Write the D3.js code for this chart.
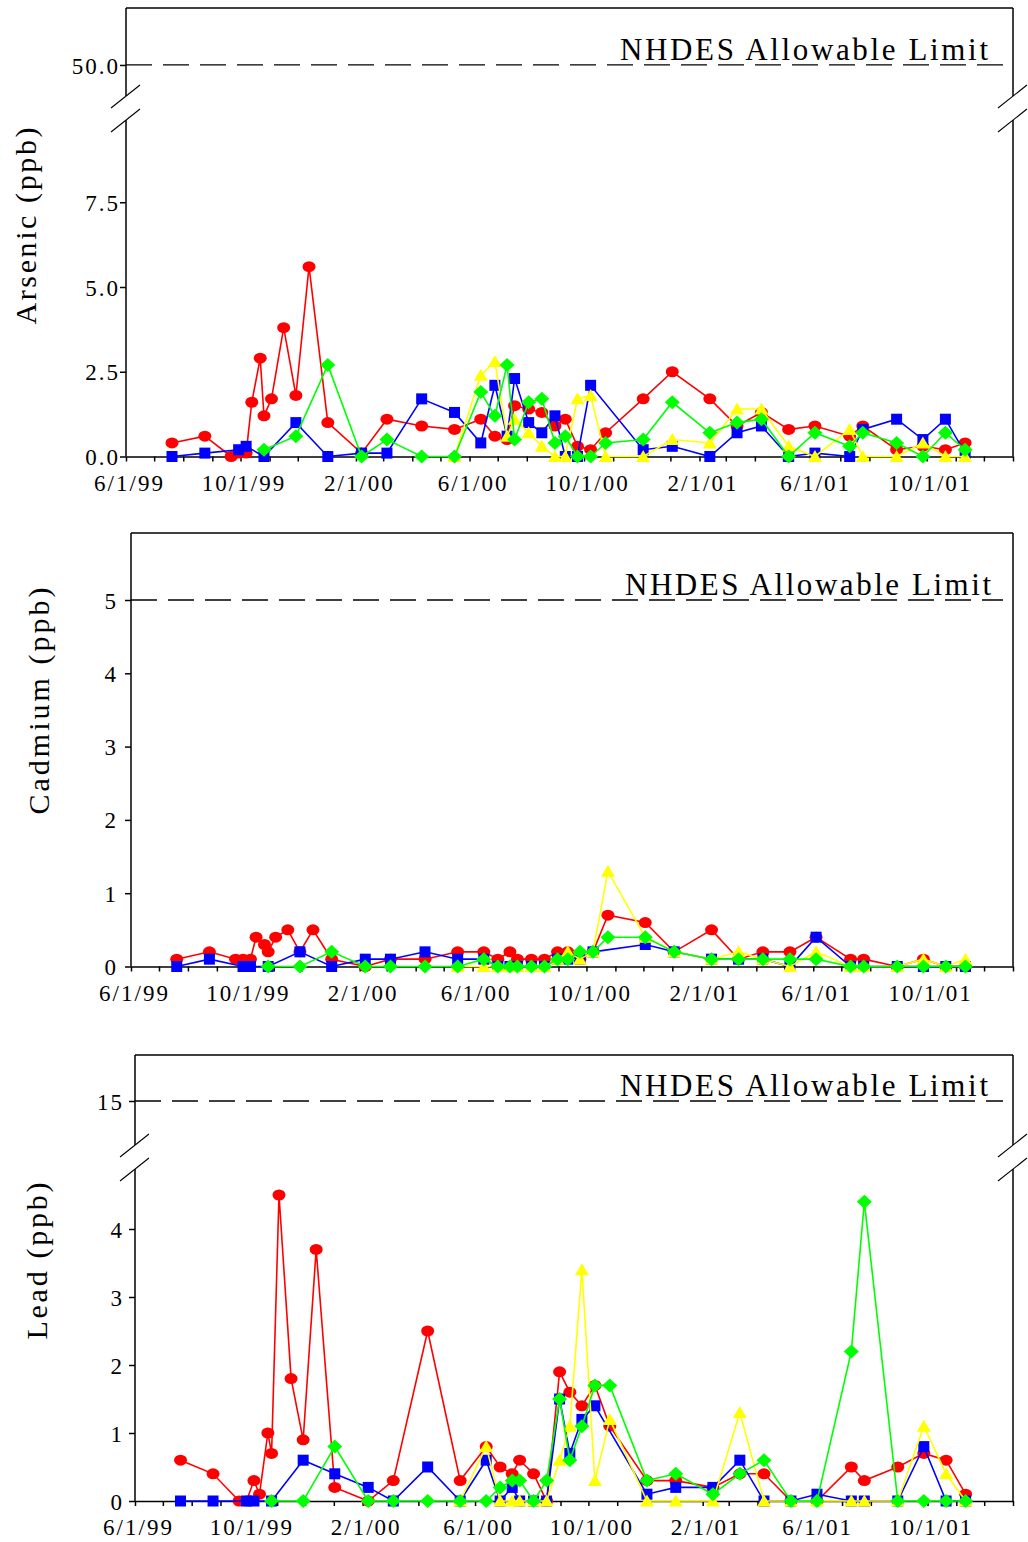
<!DOCTYPE html>
<meta charset="utf-8">
<style>
body { margin: 0; background: #fff; }
svg text { font-family: "Liberation Serif", "Times New Roman", serif; fill: #000; }
</style>
<script src="https://d3js.org/d3.v7.min.js"></script>
<body>
<svg id="chart" width="1028" height="1542"></svg>
<script>
var N = null;

// sampling dates shared by all three charts
var sampleDates = ["7/20/99","8/24/99","9/21/99","9/29/99","10/7/99","10/13/99","10/22/99","10/26/99","11/3/99","11/16/99",
  "11/29/99","12/13/99","1/2/00","2/7/00","3/5/00","4/11/00","5/16/00","6/13/00","6/28/00","7/11/00",
  "7/19/00","8/3/00","8/17/00","8/31/00","9/11/00","9/24/00","10/8/00","10/24/00","12/3/00","1/3/01",
  "2/12/01","3/13/01","4/8/01","5/7/01","6/4/01","7/11/01","7/25/01","8/30/01","9/27/01","10/21/01",
  "11/11/01"];

// values line up with sampleDates, null = no sample
var arsenicRed    = [0.4,0.6,0.0,0.1,0.1,1.6,2.9,1.2,1.7,3.8, 1.8,5.6,1.0,0.1,1.1,0.9,0.8,1.1,0.6,0.5, 1.5,1.4,1.3,0.9,1.1,0.3,0.2,0.7,1.7,2.5, 1.7,0.9,1.3,0.8,0.9,0.6,0.9,0.2,0.3,0.2, 0.4];
var arsenicBlue   = [0,0.1,N,0.2,0.3,N,N,0,N,N, 1.0,N,0,0.1,0.1,1.7,1.3,0.4,2.1,0.6, 2.3,1.0,0.7,1.2,0,0,2.1,N,0.2,0.3, 0,0.7,0.9,0,0.1,0,0.8,1.1,0.5,1.1, 0.1];
var arsenicYellow = [N,N,N,N,N,N,N,N,N,N, N,N,N,N,N,N,0,2.4,2.8,0.6, 1.1,0.7,0.3,0,0,1.7,1.8,0,0,0.5, 0.4,1.4,1.4,0.3,0,0.8,0,0,0.4,0, 0];
var arsenicGreen  = [N,N,N,N,N,N,N,0.2,N,N, 0.6,N,2.7,0,0.5,0,0,1.9,1.2,2.7, 0.5,1.6,1.7,0.4,0.6,0,0,0.4,0.5,1.6, 0.7,1.0,1.1,0,0.7,0.3,0.7,0.4,0,0.7, 0.2];

var cadmiumRed    = [0.1,0.2,0.1,0.1,0.1,0.4,0.3,0.2,0.4,0.5, 0.2,0.5,0.1,0,0.1,0.1,0.2,0.2,0.1,0.2, 0.1,0.1,0.1,0.2,0.2,0.1,0.2,0.7,0.6,0.2, 0.5,0.1,0.2,0.2,0.4,0.1,0.1,0,0.1,0, 0];
var cadmiumBlue   = [0,0.1,N,0,0,N,N,0,N,N, 0.2,N,0,0.1,0.1,0.2,0.1,0.1,0,0, 0,0,0,0.1,0.1,0.1,0.2,N,0.3,0.2, 0.1,0.1,0.1,0,0.4,0,0,0,0,0, 0];
var cadmiumYellow = [N,N,N,N,N,N,N,N,N,N, N,N,N,N,N,N,0,0,0,0, 0,0,0,0.1,0.2,0.1,0.2,1.3,0.4,0.2, 0.1,0.2,0.1,0,0.2,0,0,0,0.1,0, 0.1];
var cadmiumGreen  = [N,N,N,N,N,N,N,0,N,N, 0,N,0.2,0,0,0,0,0.1,0,0, 0,0,0,0.1,0.1,0.2,0.2,0.4,0.4,0.2, 0.1,0.1,0.1,0.1,0.1,0,0,0,0,0, 0];

var leadRed    = [0.6,0.4,0,0,0.3,0.1,1.0,0.7,4.5,1.8, 0.9,3.7,0.2,0,0.3,2.5,0.3,0.8,0.5,0.4, 0.6,0.4,0,1.9,1.6,1.4,1.7,1.1,0.3,0.3, 0.2,0.4,0.4,0,0,0.5,0.3,0.5,0.7,0.6, 0.1];
var leadBlue   = [0,0,N,0,0,N,N,0,N,N, 0.6,N,0.4,0.2,0,0.5,0,0.6,0,0.2, 0,0,0,1.5,0.7,1.2,1.4,N,0.1,0.2, 0.2,0.6,0,0,0.1,0,0,0,0.8,0, 0];
var leadYellow = [N,N,N,N,N,N,N,N,N,N, N,N,N,N,N,N,0,0.8,0,0, 0,0,0,0.6,1.1,3.4,0.3,1.2,0,0, 0,1.3,0,0,0,0,0,0,1.1,0.4, 0];
var leadGreen  = [N,N,N,N,N,N,N,0,N,N, 0,N,0.8,0,0,0,0,0,0.2,0.3, 0.3,0,0.3,1.5,0.6,1.1,1.7,1.7,0.3,0.4, 0.1,0.4,0.6,0,0,2.2,4.4,0,0,0, 0];

var arsenicTicks = [0, 2.5, 5, 7.5];
var cadmiumTicks = [0, 1, 2, 3, 4, 5];
var leadTicks = [0, 1, 2, 3, 4];
var limits = {arsenic: 50, cadmium: 5, lead: 15};
var limitLabel = "NHDES Allowable Limit";

var parseDate = d3.timeParse("%m/%d/%y");
var dates = sampleDates.map(parseDate);
var xStart = new Date(1999, 5, 1), xEnd = new Date(2002, 0, 1);
var fmtDate = d3.timeFormat("%-m/%-d/%y");

var svg = d3.select("#chart");

var seriesStyle = [
  {color: "#ff0000", shape: "M-6.5,0A6.5,5.5 0 1,0 6.5,0A6.5,5.5 0 1,0 -6.5,0Z"},
  {color: "#0000ff", shape: "M-5.5,-5.5H5.5V5.5H-5.5Z"},
  {color: "#ffff00", shape: "M0,-6.5L7,5.5L-7,5.5Z"},
  {color: "#00ff00", shape: "M0,-7L7.5,0L0,7L-7.5,0Z"}
];

var panels = [
  {title: "Arsenic (ppb)", series: [arsenicRed, arsenicBlue, arsenicYellow, arsenicGreen],
   ticks: arsenicTicks, fmt: d3.format(".1f"), limit: limits.arsenic,
   left: 126, right: 1013, top: 8, lowDomain: [0, 5], lowRange: [456.5, 287],
   brk: {upper: 96, lower: 120}, highDomain: [41, 66], highRange: [97, 8],
   labelGap: 6, titleX: 36, titleY: 226, titleLen: 197, limitTextX: 620, limitTextLen: 368},
  {title: "Cadmium (ppb)", series: [cadmiumRed, cadmiumBlue, cadmiumYellow, cadmiumGreen],
   ticks: cadmiumTicks, fmt: d3.format("d"), limit: limits.cadmium,
   left: 131, right: 1013, top: 533, lowDomain: [0, 5], lowRange: [966.5, 600],
   brk: null, labelGap: 13, titleX: 49, titleY: 701, titleLen: 227, limitTextX: 625, limitTextLen: 366},
  {title: "Lead (ppb)", series: [leadRed, leadBlue, leadYellow, leadGreen],
   ticks: leadTicks, fmt: d3.format("d"), limit: limits.lead,
   left: 135, right: 1013, top: 1055, lowDomain: [0, 4], lowRange: [1501, 1229],
   brk: {upper: 1145, lower: 1169}, highDomain: [12.8, 17.3], highRange: [1145, 1055],
   labelGap: 11, titleX: 47, titleY: 1261, titleLen: 157, limitTextX: 620, limitTextLen: 368}
];

function breakMark(g, ax, yb) {
  g.append("line").attr("x1", ax - 15).attr("y1", yb + 12).attr("x2", ax + 14).attr("y2", yb - 11)
    .attr("stroke", "#000").attr("stroke-width", 1.1);
}

panels.forEach(function(p) {
  var g = svg.append("g");
  var x = d3.scaleTime().domain([xStart, xEnd]).range([p.left, p.right]);
  var y = d3.scaleLinear().domain(p.lowDomain).range(p.lowRange);
  var yHigh = p.brk ? d3.scaleLinear().domain(p.highDomain).range(p.highRange) : y;
  var axisY = y(0);

  // frame: top and right edges, left axis line (broken where needed)
  g.append("line").attr("x1", p.left).attr("x2", p.right).attr("y1", p.top).attr("y2", p.top)
    .attr("stroke", "#000").attr("stroke-width", 1.5);
  [p.left, p.right].forEach(function(ax) {
    if (p.brk) {
      g.append("line").attr("x1", ax).attr("x2", ax).attr("y1", p.top).attr("y2", p.brk.upper)
        .attr("stroke", "#000").attr("stroke-width", 1.5);
      g.append("line").attr("x1", ax).attr("x2", ax).attr("y1", p.brk.lower).attr("y2", axisY)
        .attr("stroke", "#000").attr("stroke-width", 1.5);
      breakMark(g, ax, p.brk.upper);
      breakMark(g, ax, p.brk.lower);
    } else {
      g.append("line").attr("x1", ax).attr("x2", ax).attr("y1", p.top).attr("y2", axisY)
        .attr("stroke", "#000").attr("stroke-width", 1.5);
    }
  });

  // y ticks
  var yAxis = g.append("g").attr("transform", "translate(" + p.left + ",0)")
    .call(d3.axisLeft(y).tickValues(p.ticks).tickSize(6).tickFormat(p.fmt));
  if (p.brk) {
    g.append("g").attr("transform", "translate(" + p.left + ",0)")
      .call(d3.axisLeft(yHigh).tickValues([p.limit]).tickSize(6).tickFormat(p.fmt));
  }
  g.selectAll(".domain").filter(function() { return this.parentNode.getAttribute("transform").indexOf("," ) > 0 && !this.parentNode.classList.contains("xaxis"); }).remove();
  g.selectAll("g.tick line").attr("stroke", "#000").attr("stroke-width", 1.5);
  g.selectAll("g.tick text").attr("x", -p.labelGap).attr("dy", "0.35em")
    .style("font-size", "23px").style("letter-spacing", "2px").style("font-family", "Liberation Serif");

  // x axis
  var xAxis = g.append("g").attr("class", "xaxis").attr("transform", "translate(0," + axisY + ")")
    .call(d3.axisBottom(x).ticks(d3.timeMonth.every(1)).tickSize(5).tickSizeOuter(0)
      .tickFormat(function(d) { return d.getMonth() % 4 === 1 ? fmtDate(d) : ""; }));
  xAxis.select(".domain").attr("stroke", "#000").attr("stroke-width", 1.5);
  xAxis.selectAll(".tick line").attr("stroke", "#000").attr("stroke-width", 1.5);
  xAxis.selectAll(".tick text").attr("y", 34).attr("dy", 0).attr("dx", 3)
    .style("font-size", "23px").style("letter-spacing", "2px").style("font-family", "Liberation Serif");

  // allowable limit
  var ly = yHigh(p.limit);
  g.append("line").attr("x1", p.left).attr("x2", 1003).attr("y1", ly).attr("y2", ly)
    .attr("stroke", "#000").attr("stroke-width", 1.3).attr("stroke-dasharray", "26,11");
  g.append("text").attr("x", p.limitTextX).attr("y", ly - 5)
    .attr("textLength", p.limitTextLen).attr("lengthAdjust", "spacing")
    .style("font-size", "31px").text(limitLabel);

  // axis title
  g.append("text").attr("transform", "translate(" + p.titleX + "," + p.titleY + ") rotate(-90)")
    .attr("text-anchor", "middle").attr("textLength", p.titleLen).attr("lengthAdjust", "spacing")
    .style("font-size", "30px").text(p.title);

  // series: red, blue, yellow, green
  p.series.forEach(function(vals, i) {
    var st = seriesStyle[i];
    var pts = dates.map(function(d, j) { return {d: d, v: vals[j]}; })
      .filter(function(o) { return o.v !== null; });
    var line = d3.line().x(function(o) { return x(o.d); }).y(function(o) { return y(o.v); });
    g.append("path").attr("d", line(pts)).attr("fill", "none")
      .attr("stroke", st.color).attr("stroke-width", 1.6);
    g.append("g").selectAll("path").data(pts).join("path")
      .attr("d", st.shape).attr("fill", st.color)
      .attr("transform", function(o) { return "translate(" + x(o.d) + "," + y(o.v) + ")"; });
  });
});
</script>
</body>
